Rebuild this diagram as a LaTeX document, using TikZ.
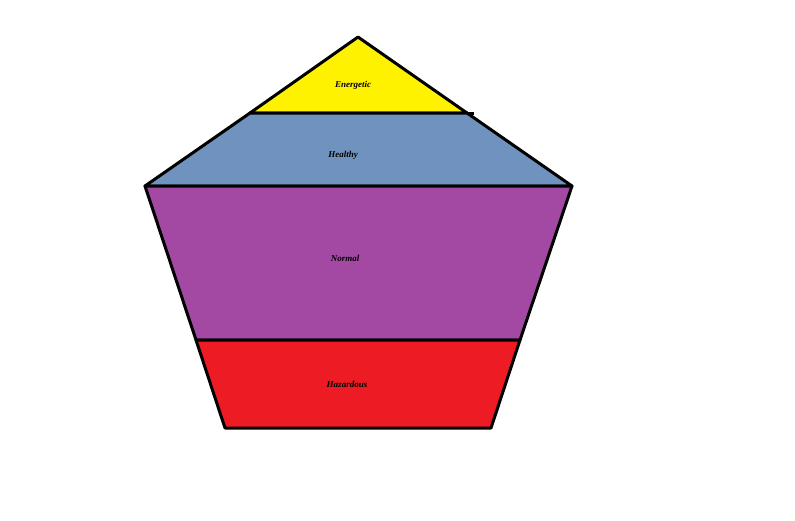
\documentclass[tikz,border=0pt]{standalone}
\usepackage{fontspec}
\setmainfont{Liberation Serif}
\definecolor{energetic}{HTML}{FFF200}
\definecolor{healthy}{HTML}{7092BE}
\definecolor{normal}{HTML}{A349A4}
\definecolor{hazardous}{HTML}{ED1C24}
\begin{document}
\begin{tikzpicture}[x=1pt,y=-1pt,line width=3pt,line join=round,
                    level/.style={draw=black},
                    lbl/.style={font=\bfseries\itshape\small}]

  \useasboundingbox (0,0) rectangle (795,520);

  % levels, top to bottom
  \filldraw[level,fill=energetic] (358,37) -- (467,113) -- (250,113) -- cycle;
  \filldraw[level,fill=healthy]   (250,113) -- (467,113) -- (572,186) -- (145,186) -- cycle;
  \filldraw[level,fill=normal]    (145,186) -- (572,186) -- (520,340) -- (196,340) -- cycle;
  \filldraw[level,fill=hazardous] (196,340) -- (520,340) -- (491,428) -- (225,428) -- cycle;
  \draw (467,113) -- (474,113);

  \node[lbl] (en) at (353,85)  {Energetic};
  \node[lbl] (he) at (343,155) {Healthy};
  \node[lbl] (no) at (345,258) {Normal};
  \node[lbl] (ha) at (347,384) {Hazardous};
\end{tikzpicture}
\end{document}
